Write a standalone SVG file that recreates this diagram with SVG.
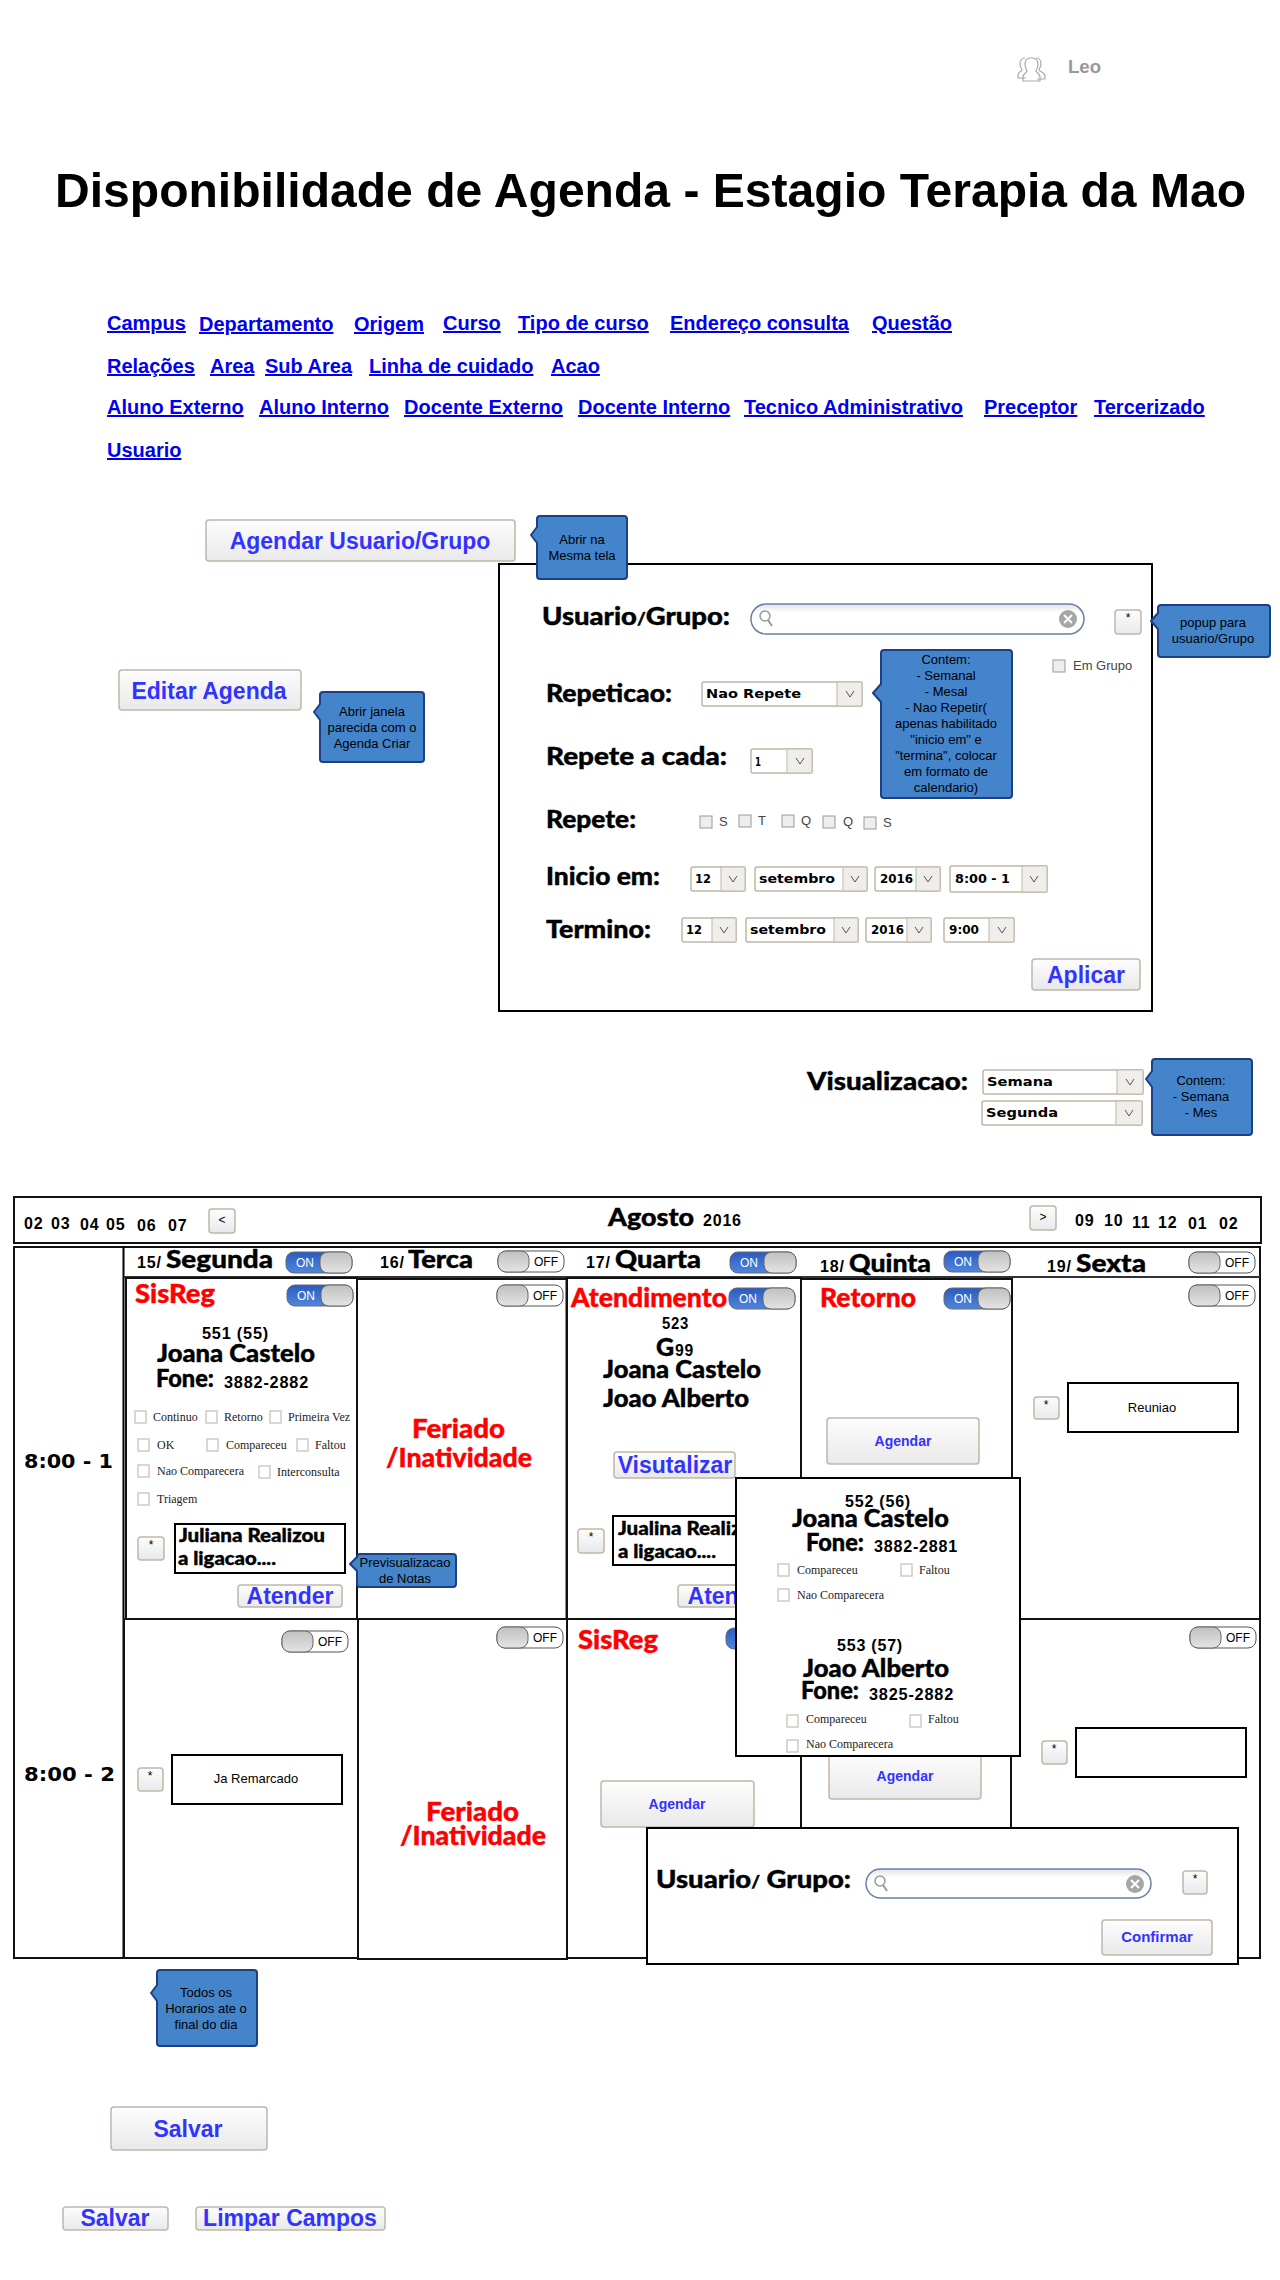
<svg xmlns="http://www.w3.org/2000/svg" width="1280" height="2280" viewBox="0 0 1280 2280">
<style>
text{font-family:"Liberation Sans",Arial,sans-serif;fill:#000}
.link{font-size:20px;font-weight:700;fill:#0000ee;text-decoration:underline}
.blue{font-weight:700;fill:#3333ff;text-anchor:middle}
.b24{font-size:23px}.b14{font-size:14px}
.h{font-family:"Lato","Liberation Sans",sans-serif;font-weight:900;font-size:25px;stroke:#000;stroke-width:.4}
.h18{font-size:19px}
.red{font-family:"Lato","Liberation Sans",sans-serif;font-weight:900;font-size:27px;fill:#ff0000;stroke:#ff0000;stroke-width:.4}
.v{font-weight:700;font-size:16px;letter-spacing:.8px}
.sel{font-family:"DejaVu Sans",sans-serif;font-weight:700;font-size:13px}
.note{font-size:13px;text-anchor:middle}
.ser{font-family:"Liberation Serif",serif;font-size:12px;fill:#222}
.small{font-size:13px;fill:#444}
.tg{font-size:12px}
.ton{fill:#fff}
.box{fill:#fff;stroke:#000;stroke-width:2}
.cell{fill:#fff;stroke:#111;stroke-width:2}
.btn{fill:url(#bg);stroke:#bfb7a8;stroke-width:1.5}
.star{font-size:12px;text-anchor:middle}
.call{fill:#4384ca;stroke:#1d3f86;stroke-width:2;stroke-linejoin:round}
.cb{fill:#fff;stroke:#cfcac2;stroke-width:1.5}
.cbg{fill:#eee;stroke:#999}
.chev{fill:none;stroke:#555;stroke-width:1}
.selb{fill:#fff;stroke:#c0b8a8;stroke-width:1.5}
.sela{fill:#f0eeea;stroke:#c0b8a8;stroke-width:1}
.srch{fill:url(#sg);stroke:#6b80a3;stroke-width:1.5}
.time{font-family:"DejaVu Sans",sans-serif;font-weight:700;font-size:19px}
</style>
<defs>
<linearGradient id="bg" x1="0" y1="0" x2="0" y2="1"><stop offset="0" stop-color="#fdfdfd"/><stop offset="1" stop-color="#e9e9e9"/></linearGradient>
<linearGradient id="sg" x1="0" y1="0" x2="0" y2="1"><stop offset="0" stop-color="#dfe4ea"/><stop offset=".3" stop-color="#fff"/><stop offset="1" stop-color="#fff"/></linearGradient>
<linearGradient id="on" x1="0" y1="0" x2="0" y2="1"><stop offset="0" stop-color="#2a5bc0"/><stop offset="1" stop-color="#4f86dc"/></linearGradient>
<linearGradient id="kn" x1="0" y1="0" x2="0" y2="1"><stop offset="0" stop-color="#c0c0c0"/><stop offset="1" stop-color="#e4e4e4"/></linearGradient>
<g id="tOn"><rect width="66" height="21" rx="8" fill="url(#on)" stroke="#667"/><rect x="34" width="32" height="21" rx="8" fill="url(#kn)" stroke="#666"/></g>
<g id="tOff"><rect width="66" height="21" rx="8" fill="#fff" stroke="#555"/><rect width="31" height="21" rx="8" fill="url(#kn)" stroke="#666"/></g>
<g id="mag"><circle cx="5" cy="5" r="5" fill="none" stroke="#999" stroke-width="1.500"/><path d="M8 9l4 6" stroke="#999" stroke-width="2"/></g>
<g id="clr"><circle cx="9" cy="8" r="9" fill="#a6a6a6"/><path d="M5 4l8 8M13 4l-8 8" stroke="#fff" stroke-width="2"/></g>
<path id="chv" class="chev" d="M0 0l4 6 4-6"/>
</defs>

<g id="user"><path d="M1025 58c-4 0-5 3-5 6 0 3 2 5 2 6-1 2-4 2-4 5v3h8M1036 58c4 0 5 3 5 6 0 3-2 5-2 6 1 2 6 2 6 6v3h-8M1030 58c-4 0-5 3-5 7 0 3 2 5 2 6-1 2-4 3-4 6v4h17v-4c0-3-3-4-4-6 0-1 2-3 2-6 0-4-2-7-6-7z" fill="#fff" stroke="#aaa" stroke-width="1.200"/><text x="1068" y="73" font-size="18" font-weight="700" style="fill:#999" textLength="33" lengthAdjust="spacingAndGlyphs">Leo</text></g>
<text id="title" x="55" y="207" font-size="48" font-weight="700" textLength="1191" lengthAdjust="spacingAndGlyphs">Disponibilidade de Agenda - Estagio Terapia da Mao</text>

<g id="nav">
<text class="link" x="107" y="330">Campus</text><text class="link" x="199" y="331">Departamento</text><text class="link" x="354" y="331">Origem</text><text class="link" x="443" y="330">Curso</text><text class="link" x="518" y="330">Tipo de curso</text><text class="link" x="670" y="330">Endereço consulta</text><text class="link" x="872" y="330">Questão</text>
<text class="link" x="107" y="373">Relações</text><text class="link" x="210" y="373">Area</text><text class="link" x="265" y="373">Sub Area</text><text class="link" x="369" y="373">Linha de cuidado</text><text class="link" x="551" y="373">Acao</text>
<text class="link" x="107" y="414">Aluno Externo</text><text class="link" x="259" y="414">Aluno Interno</text><text class="link" x="404" y="414">Docente Externo</text><text class="link" x="578" y="414">Docente Interno</text><text class="link" x="744" y="414">Tecnico Administrativo</text><text class="link" x="984" y="414">Preceptor</text><text class="link" x="1094" y="414">Tercerizado</text>
<text class="link" x="107" y="457">Usuario</text>
</g>

<g id="form">
<rect class="box" x="499" y="564" width="653" height="447"/>
<text class="h" x="542" y="625" textLength="188" lengthAdjust="spacingAndGlyphs">Usuario<tspan font-size="17">/</tspan>Grupo:</text>
<g id="search1"><rect class="srch" x="751" y="604" width="333" height="30" rx="15"/><use href="#mag" x="760" y="611"/><use href="#clr" x="1059" y="611"/></g>
<g id="star1"><rect class="btn" x="1115" y="610" width="26" height="24" rx="3"/><text class="star" x="1128" y="622">*</text></g>
<rect class="cbg" x="1053" y="660" width="12" height="12"/><text class="small" x="1073" y="670">Em Grupo</text>
<text class="h" x="546" y="702" textLength="126" lengthAdjust="spacingAndGlyphs">Repeticao:</text>
<g id="selRep"><rect class="selb" x="702" y="682" width="160" height="24" rx="2"/><rect class="sela" x="837" y="682" width="25" height="24"/><use href="#chv" x="846" y="691"/><text class="sel" x="706" y="698" textLength="95" lengthAdjust="spacingAndGlyphs">Nao Repete</text></g>
<text class="h" x="546" y="765" textLength="181" lengthAdjust="spacingAndGlyphs">Repete a cada:</text>
<g id="selCada"><rect class="selb" x="751" y="749" width="61" height="24" rx="2"/><rect class="sela" x="787" y="749" width="25" height="24"/><use href="#chv" x="796" y="758"/><text class="sel" x="755" y="766" textLength="6" lengthAdjust="spacingAndGlyphs">1</text></g>
<text class="h" x="546" y="828" textLength="90" lengthAdjust="spacingAndGlyphs">Repete:</text>
<g id="days">
<rect class="cbg" x="700" y="816" width="12" height="12"/><text class="small" x="719" y="826">S</text>
<rect class="cbg" x="739" y="815" width="12" height="12"/><text class="small" x="758" y="825">T</text>
<rect class="cbg" x="782" y="815" width="12" height="12"/><text class="small" x="801" y="825">Q</text>
<rect class="cbg" x="823" y="816" width="12" height="12"/><text class="small" x="843" y="826">Q</text>
<rect class="cbg" x="864" y="817" width="12" height="12"/><text class="small" x="883" y="827">S</text>
</g>
<text class="h" x="546" y="885" textLength="114" lengthAdjust="spacingAndGlyphs">Inicio em:</text>
<g id="inicio">
<rect class="selb" x="691" y="867" width="54" height="24" rx="2"/><rect class="sela" x="721" y="867" width="24" height="24"/><use href="#chv" x="729" y="876"/><text class="sel" x="695" y="883" textLength="16" lengthAdjust="spacingAndGlyphs">12</text>
<rect class="selb" x="755" y="867" width="112" height="24" rx="2"/><rect class="sela" x="843" y="867" width="24" height="24"/><use href="#chv" x="851" y="876"/><text class="sel" x="759" y="883" textLength="76" lengthAdjust="spacingAndGlyphs">setembro</text>
<rect class="selb" x="875" y="867" width="65" height="24" rx="2"/><rect class="sela" x="916" y="867" width="24" height="24"/><use href="#chv" x="924" y="876"/><text class="sel" x="880" y="883" textLength="33" lengthAdjust="spacingAndGlyphs">2016</text>
<rect class="selb" x="950" y="866" width="97" height="26" rx="2"/><rect class="sela" x="1022" y="866" width="25" height="26"/><use href="#chv" x="1030" y="876"/><text class="sel" x="955" y="883" textLength="55" lengthAdjust="spacingAndGlyphs">8:00 - 1</text>
</g>
<text class="h" x="546" y="938" textLength="105" lengthAdjust="spacingAndGlyphs">Termino:</text>
<g id="termino">
<rect class="selb" x="682" y="918" width="54" height="24" rx="2"/><rect class="sela" x="712" y="918" width="24" height="24"/><use href="#chv" x="720" y="927"/><text class="sel" x="686" y="934" textLength="16" lengthAdjust="spacingAndGlyphs">12</text>
<rect class="selb" x="746" y="918" width="112" height="24" rx="2"/><rect class="sela" x="834" y="918" width="24" height="24"/><use href="#chv" x="842" y="927"/><text class="sel" x="750" y="934" textLength="76" lengthAdjust="spacingAndGlyphs">setembro</text>
<rect class="selb" x="866" y="918" width="65" height="24" rx="2"/><rect class="sela" x="907" y="918" width="24" height="24"/><use href="#chv" x="915" y="927"/><text class="sel" x="871" y="934" textLength="33" lengthAdjust="spacingAndGlyphs">2016</text>
<rect class="selb" x="944" y="918" width="70" height="24" rx="2"/><rect class="sela" x="989" y="918" width="25" height="24"/><use href="#chv" x="998" y="927"/><text class="sel" x="949" y="934" textLength="30" lengthAdjust="spacingAndGlyphs">9:00</text>
</g>
<g id="aplicar"><rect class="btn" x="1032" y="959" width="108" height="31" rx="3"/><text class="blue b24" x="1086" y="983">Aplicar</text></g>
</g>

<g id="agendarUsuario"><rect class="btn" x="206" y="520" width="309" height="41" rx="3"/><text class="blue b24" x="360" y="549">Agendar Usuario/Grupo</text></g>
<g id="noteMesma"><path class="call" d="M540 516H624Q627 516 627 519V576Q627 579 624 579H540Q537 579 537 576V543L531 535L537 527V519Q537 516 540 516Z"/><text class="note" x="582" y="544">Abrir na</text><text class="note" x="582" y="560">Mesma tela</text></g>
<g id="notePopup"><path class="call" d="M1161 605H1267Q1270 605 1270 608V654Q1270 657 1267 657H1161Q1158 657 1158 654V629L1151 621L1158 613V608Q1158 605 1161 605Z"/><text class="note" x="1213" y="627">popup para</text><text class="note" x="1213" y="643">usuario/Grupo</text></g>
<g id="noteContem"><path class="call" d="M884 650H1009Q1012 650 1012 653V795Q1012 798 1009 798H884Q881 798 881 795V702L873 693L881 684V653Q881 650 884 650Z"/>
<text class="note" x="946" y="664">Contem:</text><text class="note" x="946" y="680">- Semanal</text><text class="note" x="946" y="696">- Mesal</text><text class="note" x="946" y="712">- Nao Repetir(</text><text class="note" x="946" y="728">apenas habilitado</text><text class="note" x="946" y="744">"inicio em" e</text><text class="note" x="946" y="760">"termina", colocar</text><text class="note" x="946" y="776">em formato de</text><text class="note" x="946" y="792">calendario)</text></g>
<g id="editar"><rect class="btn" x="119" y="670" width="182" height="40" rx="3"/><text class="blue b24" x="209" y="699">Editar Agenda</text></g>
<g id="noteJanela"><path class="call" d="M323 692H421Q424 692 424 695V759Q424 762 421 762H323Q320 762 320 759V720L314 712L320 704V695Q320 692 323 692Z"/><text class="note" x="372" y="716">Abrir janela</text><text class="note" x="372" y="732">parecida com o</text><text class="note" x="372" y="748">Agenda Criar</text></g>

<g id="visualizacao">
<text class="h" x="807" y="1090" textLength="161" lengthAdjust="spacingAndGlyphs">Visualizacao:</text>
<rect class="selb" x="983" y="1070" width="160" height="24" rx="2"/><rect class="sela" x="1117" y="1070" width="26" height="24"/><use href="#chv" x="1126" y="1079"/><text class="sel" x="987" y="1086" textLength="66" lengthAdjust="spacingAndGlyphs">Semana</text>
<rect class="selb" x="982" y="1101" width="160" height="24" rx="2"/><rect class="sela" x="1116" y="1101" width="26" height="24"/><use href="#chv" x="1125" y="1110"/><text class="sel" x="986" y="1117" textLength="72" lengthAdjust="spacingAndGlyphs">Segunda</text>
</g>
<g id="noteVis"><path class="call" d="M1155 1059H1249Q1252 1059 1252 1062V1132Q1252 1135 1249 1135H1155Q1152 1135 1152 1132V1087L1146 1079L1152 1071V1062Q1152 1059 1155 1059Z"/><text class="note" x="1201" y="1085">Contem:</text><text class="note" x="1201" y="1101">- Semana</text><text class="note" x="1201" y="1117">- Mes</text></g>

<g id="monthBar">
<rect class="cell" x="14" y="1197" width="1247" height="46"/>
<text class="v" x="24" y="1229">02</text><text class="v" x="51" y="1229">03</text><text class="v" x="80" y="1230">04</text><text class="v" x="106" y="1230">05</text><text class="v" x="137" y="1231">06</text><text class="v" x="168" y="1231">07</text>
<rect class="btn" x="209" y="1209" width="26" height="24" rx="3"/><text class="star" x="222" y="1224">&lt;</text>
<text class="h" x="608" y="1226" textLength="86" lengthAdjust="spacingAndGlyphs">Agosto</text><text class="v" x="703" y="1226">2016</text>
<rect class="btn" x="1030" y="1206" width="26" height="24" rx="3"/><text class="star" x="1043" y="1221">&gt;</text>
<text class="v" x="1075" y="1226">09</text><text class="v" x="1104" y="1226">10</text><text class="v" x="1132" y="1228">11</text><text class="v" x="1158" y="1228">12</text><text class="v" x="1188" y="1229">01</text><text class="v" x="1219" y="1229">02</text>
</g>

<g id="grid">
<rect class="cell" x="14" y="1247" width="1246" height="711"/>
<line x1="123.500" y1="1247" x2="123.500" y2="1958" stroke="#000" stroke-width="2"/>
<line x1="124" y1="1277" x2="1260" y2="1277" stroke="#333" stroke-width="2"/>
<line x1="124" y1="1619" x2="1260" y2="1619" stroke="#111" stroke-width="2"/>
<text class="time" x="24" y="1468" textLength="89" lengthAdjust="spacingAndGlyphs">8:00 - 1</text>
<text class="time" x="24" y="1781" textLength="91" lengthAdjust="spacingAndGlyphs">8:00 - 2</text>
</g>

<g id="headers">
<g id="h15"><text class="v" x="137" y="1268">15/</text><text class="h" x="166" y="1268" textLength="107" lengthAdjust="spacingAndGlyphs">Segunda</text><use href="#tOn" x="286" y="1252"/><text class="tg ton" x="296" y="1267">ON</text></g>
<g id="h16"><text class="v" x="380" y="1268">16/</text><text class="h" x="408" y="1268" textLength="65" lengthAdjust="spacingAndGlyphs">Terca</text><use href="#tOff" x="498" y="1251"/><text class="tg" x="534" y="1266">OFF</text></g>
<g id="h17"><text class="v" x="586" y="1268">17/</text><text class="h" x="615" y="1268" textLength="86" lengthAdjust="spacingAndGlyphs">Quarta</text><use href="#tOn" x="730" y="1252"/><text class="tg ton" x="740" y="1267">ON</text></g>
<g id="h18"><text class="v" x="820" y="1272">18/</text><text class="h" x="849" y="1272" textLength="82" lengthAdjust="spacingAndGlyphs">Quinta</text><use href="#tOn" x="944" y="1251"/><text class="tg ton" x="954" y="1266">ON</text></g>
<g id="h19"><text class="v" x="1047" y="1272">19/</text><text class="h" x="1076" y="1272" textLength="70" lengthAdjust="spacingAndGlyphs">Sexta</text><use href="#tOff" x="1189" y="1252"/><text class="tg" x="1225" y="1267">OFF</text></g>
</g>

<g id="cellSeg1">
<rect class="cell" x="126" y="1278" width="231" height="341"/>
<text class="red" x="135" y="1303" textLength="80" lengthAdjust="spacingAndGlyphs">SisReg</text>
<use href="#tOn" x="287" y="1285"/><text class="tg ton" x="297" y="1300">ON</text>
<text class="v" x="202" y="1339" textLength="67" lengthAdjust="spacingAndGlyphs">551 (55)</text>
<text class="h" x="157" y="1362" textLength="158" lengthAdjust="spacingAndGlyphs">Joana Castelo</text>
<text class="h" x="156" y="1387" textLength="58" lengthAdjust="spacingAndGlyphs">Fone:</text><text class="v" x="224" y="1388" textLength="85" lengthAdjust="spacingAndGlyphs">3882-2882</text>
<rect class="cb" x="135" y="1411" width="11" height="12"/><text class="ser" x="153" y="1421">Continuo</text>
<rect class="cb" x="206" y="1411" width="11" height="12"/><text class="ser" x="224" y="1421">Retorno</text>
<rect class="cb" x="270" y="1411" width="11" height="12"/><text class="ser" x="288" y="1421">Primeira Vez</text>
<rect class="cb" x="138" y="1439" width="11" height="12"/><text class="ser" x="157" y="1449">OK</text>
<rect class="cb" x="207" y="1439" width="11" height="12"/><text class="ser" x="226" y="1449">Compareceu</text>
<rect class="cb" x="297" y="1439" width="11" height="12"/><text class="ser" x="315" y="1449">Faltou</text>
<rect class="cb" x="138" y="1465" width="11" height="12"/><text class="ser" x="157" y="1475">Nao Comparecera</text>
<rect class="cb" x="259" y="1466" width="11" height="12"/><text class="ser" x="277" y="1476">Interconsulta</text>
<rect class="cb" x="138" y="1493" width="11" height="12"/><text class="ser" x="157" y="1503">Triagem</text>
<rect class="btn" x="138" y="1537" width="26" height="23" rx="3"/><text class="star" x="151" y="1549">*</text>
<rect class="box" x="175" y="1524" width="170" height="49"/>
<text class="h h18" x="179" y="1542" textLength="146" lengthAdjust="spacingAndGlyphs">Juliana Realizou</text>
<text class="h h18" x="178" y="1565" textLength="98" lengthAdjust="spacingAndGlyphs">a ligacao....</text>
<rect class="btn" x="238" y="1585" width="104" height="22" rx="3"/><text class="blue b24" x="290" y="1604">Atender</text>
</g>
<g id="cellTer1">
<rect class="cell" x="357" y="1279" width="209.500" height="340"/>
<use href="#tOff" x="497" y="1285"/><text class="tg" x="533" y="1300">OFF</text>
<text class="red" x="412" y="1438" textLength="93" lengthAdjust="spacingAndGlyphs">Feriado</text>
<text class="red" x="386" y="1467" textLength="146" lengthAdjust="spacingAndGlyphs">/Inatividade</text>
</g>
<g id="cellQua1">
<rect class="cell" x="567" y="1278" width="234" height="341"/>
<text class="red" x="571" y="1307" textLength="156" lengthAdjust="spacingAndGlyphs">Atendimento</text>
<use href="#tOn" x="729" y="1288"/><text class="tg ton" x="739" y="1303">ON</text>
<text class="v" x="662" y="1329" textLength="27" lengthAdjust="spacingAndGlyphs">523</text>
<text class="h" x="656" y="1356">G</text><text class="v" x="675" y="1356" textLength="19" lengthAdjust="spacingAndGlyphs">99</text>
<text class="h" x="603" y="1378" textLength="158" lengthAdjust="spacingAndGlyphs">Joana Castelo</text>
<text class="h" x="603" y="1407" textLength="146" lengthAdjust="spacingAndGlyphs">Joao Alberto</text>
<rect class="btn" x="614" y="1452" width="121" height="26" rx="3"/><text class="blue b24" x="675" y="1473">Visutalizar</text>
<rect class="btn" x="578" y="1529" width="26" height="24" rx="3"/><text class="star" x="591" y="1541">*</text>
<rect class="box" x="613" y="1516" width="150" height="49"/>
<text class="h h18" x="618" y="1535" textLength="146" lengthAdjust="spacingAndGlyphs">Jualina Realizou</text>
<text class="h h18" x="618" y="1558" textLength="98" lengthAdjust="spacingAndGlyphs">a ligacao....</text>
<rect class="btn" x="678" y="1585" width="105" height="22" rx="3"/><text class="blue b24" x="731" y="1604">Atender</text>
</g>
<g id="cellQui1">
<rect class="cell" x="801" y="1279" width="211" height="340"/>
<text class="red" x="820" y="1307" textLength="96" lengthAdjust="spacingAndGlyphs">Retorno</text>
<use href="#tOn" x="944" y="1288"/><text class="tg ton" x="954" y="1303">ON</text>
<rect class="btn" x="827" y="1418" width="152" height="46" rx="3"/><text class="blue b14" x="903" y="1446">Agendar</text>
</g>
<g id="cellSex1">
<use href="#tOff" x="1189" y="1285"/><text class="tg" x="1225" y="1300">OFF</text>
<rect class="btn" x="1034" y="1397" width="25" height="22" rx="3"/><text class="star" x="1046" y="1409">*</text>
<rect class="box" x="1068" y="1383" width="170" height="49"/><text class="note" x="1152" y="1412">Reuniao</text>
</g>

<g id="cellSeg2">
<rect class="cell" x="124" y="1619" width="234" height="339"/>
<use href="#tOff" x="282" y="1631"/><text class="tg" x="318" y="1646">OFF</text>
<rect class="btn" x="138" y="1768" width="25" height="23" rx="3"/><text class="star" x="150" y="1780">*</text>
<rect class="box" x="172" y="1755" width="170" height="49"/><text class="note" x="256" y="1783">Ja Remarcado</text>
</g>
<g id="cellTer2">
<rect class="cell" x="358" y="1619" width="209" height="340"/>
<use href="#tOff" x="497" y="1627"/><text class="tg" x="533" y="1642">OFF</text>
<text class="red" x="426" y="1821" textLength="93" lengthAdjust="spacingAndGlyphs">Feriado</text>
<text class="red" x="400" y="1845" textLength="146" lengthAdjust="spacingAndGlyphs">/Inatividade</text>
</g>
<g id="cellQua2">
<rect class="cell" x="567" y="1619" width="234" height="339"/>
<text class="red" x="578" y="1649" textLength="80" lengthAdjust="spacingAndGlyphs">SisReg</text>
<use href="#tOn" x="726" y="1628"/>
<rect class="btn" x="601" y="1781" width="153" height="46" rx="3"/><text class="blue b14" x="677" y="1809">Agendar</text>
</g>
<g id="cellQui2">
<rect class="cell" x="801" y="1619" width="210" height="339"/>
<rect class="btn" x="829" y="1753" width="152" height="46" rx="3"/><text class="blue b14" x="905" y="1781">Agendar</text>
</g>
<g id="cellSex2">
<use href="#tOff" x="1190" y="1627"/><text class="tg" x="1226" y="1642">OFF</text>
<rect class="btn" x="1042" y="1741" width="25" height="23" rx="3"/><text class="star" x="1054" y="1753">*</text>
<rect class="box" x="1076" y="1728" width="170" height="49"/>
</g>

<g id="popupPacientes">
<rect class="box" x="736" y="1478" width="284" height="278"/>
<text class="v" x="845" y="1507" textLength="66" lengthAdjust="spacingAndGlyphs">552 (56)</text>
<text class="h" x="792" y="1527" textLength="157" lengthAdjust="spacingAndGlyphs">Joana Castelo</text>
<text class="h" x="806" y="1551" textLength="58" lengthAdjust="spacingAndGlyphs">Fone:</text><text class="v" x="874" y="1552" textLength="84" lengthAdjust="spacingAndGlyphs">3882-2881</text>
<rect class="cb" x="778" y="1564" width="11" height="12"/><text class="ser" x="797" y="1574">Compareceu</text>
<rect class="cb" x="901" y="1564" width="11" height="12"/><text class="ser" x="919" y="1574">Faltou</text>
<rect class="cb" x="778" y="1589" width="11" height="12"/><text class="ser" x="797" y="1599">Nao Comparecera</text>
<text class="v" x="837" y="1651" textLength="66" lengthAdjust="spacingAndGlyphs">553 (57)</text>
<text class="h" x="803" y="1677" textLength="146" lengthAdjust="spacingAndGlyphs">Joao Alberto</text>
<text class="h" x="801" y="1699" textLength="58" lengthAdjust="spacingAndGlyphs">Fone:</text><text class="v" x="869" y="1700" textLength="85" lengthAdjust="spacingAndGlyphs">3825-2882</text>
<rect class="cb" x="787" y="1715" width="11" height="12"/><text class="ser" x="806" y="1723">Compareceu</text>
<rect class="cb" x="910" y="1715" width="11" height="12"/><text class="ser" x="928" y="1723">Faltou</text>
<rect class="cb" x="787" y="1740" width="11" height="12"/><text class="ser" x="806" y="1748">Nao Comparecera</text>
</g>

<g id="popupUsuario">
<rect class="box" x="647" y="1828" width="591" height="136"/>
<text class="h" x="656" y="1888" textLength="195" lengthAdjust="spacingAndGlyphs">Usuario<tspan font-size="17">/</tspan> Grupo:</text>
<rect class="srch" x="866" y="1869" width="285" height="29" rx="14.500"/><use href="#mag" x="875" y="1876"/><use href="#clr" x="1126" y="1876"/>
<rect class="btn" x="1183" y="1871" width="24" height="23" rx="3"/><text class="star" x="1195" y="1883">*</text>
<rect class="btn" x="1102" y="1920" width="110" height="35" rx="3"/><text class="blue" x="1157" y="1942" font-size="15">Confirmar</text>
</g>

<g id="notePrev"><path class="call" d="M360 1554H453Q456 1554 456 1557V1584Q456 1587 453 1587H360Q357 1587 357 1584V1571L350 1564L357 1557Q357 1554 360 1554Z"/><text class="note" x="405" y="1567">Previsualizacao</text><text class="note" x="405" y="1583">de Notas</text></g>
<g id="noteTodos"><path class="call" d="M160 1970H254Q257 1970 257 1973V2043Q257 2046 254 2046H160Q157 2046 157 2043V2001L151 1993L157 1985V1973Q157 1970 160 1970Z"/><text class="note" x="206" y="1997">Todos os</text><text class="note" x="206" y="2013">Horarios ate o</text><text class="note" x="206" y="2029">final do dia</text></g>

<g id="salvar1"><rect class="btn" x="111" y="2107" width="156" height="43" rx="3"/><text class="blue b24" x="188" y="2137">Salvar</text></g>
<g id="salvar2"><rect class="btn" x="63" y="2207" width="105" height="23" rx="3"/><text class="blue b24" x="115" y="2226">Salvar</text></g>
<g id="limpar"><rect class="btn" x="196" y="2207" width="189" height="23" rx="3"/><text class="blue b24" x="290" y="2226">Limpar Campos</text></g>
</svg>
